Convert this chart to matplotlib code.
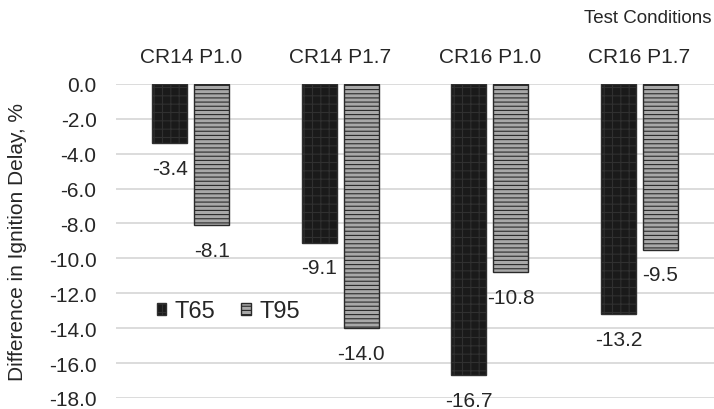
import numpy as np
import matplotlib
matplotlib.use("Agg")
import matplotlib.pyplot as plt

plt.rcParams["font.family"] = ["Liberation Sans", "DejaVu Sans"]
plt.rcParams["hatch.linewidth"] = 0.8

CATEGORIES = ["CR14 P1.0", "CR14 P1.7", "CR16 P1.0", "CR16 P1.7"]
T65 = [-3.4, -9.1, -16.7, -13.2]
T95 = [-8.1, -14.0, -10.8, -9.5]
Y_TICKS = [0, -2, -4, -6, -8, -10, -12, -14, -16, -18]

fig = plt.figure(figsize=(7.14, 4.10), dpi=100)
ax = fig.add_axes([0.1625, 0.027, 0.8375, 0.766])

x = np.arange(len(CATEGORIES))
w = 0.233
b1 = ax.bar(x - 0.14, T65, w, facecolor="#1a1a1a", edgecolor="#303030",
            hatch="++", linewidth=1.0, label="T65", zorder=3)
b2 = ax.bar(x + 0.14, T95, w, facecolor="#a8a8a8", edgecolor="#2a2a2a",
            hatch="----", linewidth=1.0, label="T95", zorder=3)

for bars, vals in [(b1, T65), (b2, T95)]:
    for bar, v in zip(bars, vals):
        ax.annotate(f"{v:.1f}", (bar.get_x() + bar.get_width() / 2, v),
                    xytext=(0, -18), textcoords="offset points",
                    ha="center", va="center", fontsize=15, color="#262626")

ax.set_xlim(-0.5, len(CATEGORIES) - 0.5)
ax.set_ylim(-18, 0)
ax.set_yticks(Y_TICKS)
ax.set_yticklabels([f"{t:.1f}" for t in Y_TICKS])
ax.xaxis.tick_top()
ax.set_xticks(x)
ax.set_xticklabels(CATEGORIES)
ax.tick_params(axis="both", length=0, labelsize=15, colors="#262626")
ax.tick_params(axis="y", pad=14)
ax.tick_params(axis="x", pad=13)
ax.grid(axis="y", color="#d9d9d9", linewidth=1.3, zorder=0)
ax.set_axisbelow(True)
for s in ax.spines.values():
    s.set_visible(False)

ax.set_ylabel("Difference in Ignition Delay, %", fontsize=15, color="#262626")
ax.yaxis.set_label_coords(-0.149, 0.5)
fig.text(0.997, 0.955, "Test Conditions", ha="right", va="center",
         fontsize=13.5, color="#262626")

fig.legend(handles=[b1, b2], loc="center left", bbox_to_anchor=(157 / 714, 1 - 312 / 410),
           frameon=False, fontsize=17, handlelength=0.4, handleheight=0.4,
           handletextpad=0.35, columnspacing=1.1, ncol=2, borderaxespad=0,
           borderpad=0, labelcolor="#262626")

fig.savefig("out.png", dpi=100)
